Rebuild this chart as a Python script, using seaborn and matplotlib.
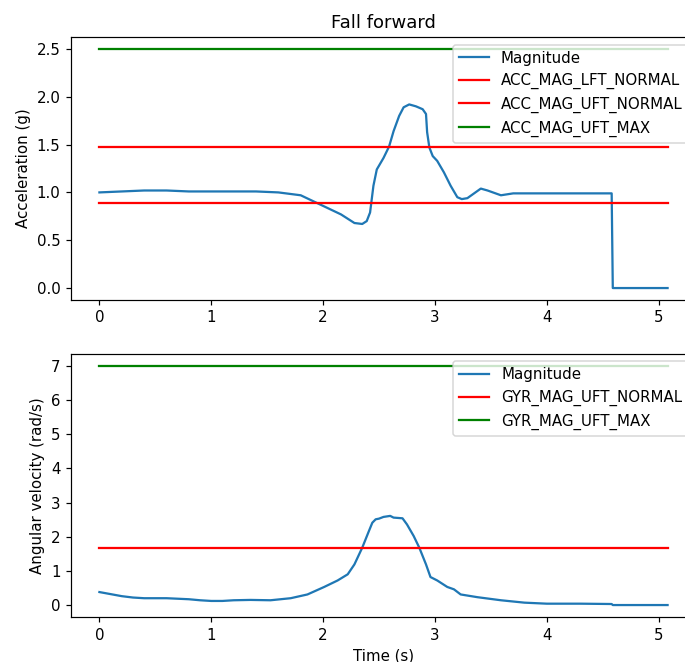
import matplotlib
matplotlib.use("Agg")
import matplotlib.pyplot as plt
import seaborn as sns
import pandas as pd

# Accelerometer magnitude (g)
acc_t = [0.0, 0.2, 0.4, 0.6, 0.8, 1.0, 1.2, 1.4, 1.6, 1.8, 1.98, 2.16, 2.28, 2.35, 2.39,
         2.42, 2.45, 2.48, 2.54, 2.59, 2.63, 2.68, 2.72, 2.77, 2.83, 2.89, 2.92, 2.93,
         2.95, 2.98, 3.02, 3.08, 3.14, 3.20, 3.24, 3.29, 3.41, 3.47, 3.59, 3.7, 3.9,
         4.1, 4.3, 4.5, 4.58, 4.59, 4.8, 5.08]
acc_mag = [1.00, 1.01, 1.02, 1.02, 1.01, 1.01, 1.01, 1.01, 1.00, 0.97, 0.87, 0.77, 0.68,
           0.67, 0.70, 0.79, 1.07, 1.24, 1.36, 1.48, 1.64, 1.80, 1.89, 1.92, 1.90,
           1.87, 1.82, 1.63, 1.47, 1.38, 1.33, 1.21, 1.07, 0.95, 0.93, 0.94, 1.04, 1.02,
           0.97, 0.99, 0.99, 0.99, 0.99, 0.99, 0.99, 0.0, 0.0, 0.0]

# Gyroscope magnitude (rad/s)
gyr_t = [0.0, 0.1, 0.2, 0.3, 0.4, 0.6, 0.8, 0.9, 1.0, 1.1, 1.2, 1.35, 1.53, 1.71, 1.86,
         2.01, 2.13, 2.22, 2.28, 2.35, 2.41, 2.44, 2.47, 2.50, 2.54, 2.60, 2.63, 2.71,
         2.75, 2.81, 2.86, 2.92, 2.96, 3.02, 3.11, 3.17, 3.23, 3.38, 3.59, 3.8, 4.0,
         4.3, 4.58, 4.59, 4.8, 5.08]
gyr_mag = [0.38, 0.32, 0.26, 0.22, 0.20, 0.20, 0.17, 0.14, 0.12, 0.12, 0.14, 0.15, 0.14,
           0.20, 0.31, 0.53, 0.72, 0.90, 1.19, 1.68, 2.17, 2.41, 2.51, 2.53, 2.58, 2.61,
           2.56, 2.54, 2.36, 2.02, 1.68, 1.19, 0.82, 0.72, 0.53, 0.46, 0.31, 0.23, 0.14,
           0.07, 0.04, 0.04, 0.03, 0.0, 0.0, 0.0]

acc_thr_names = ["ACC_MAG_LFT_NORMAL", "ACC_MAG_UFT_NORMAL", "ACC_MAG_UFT_MAX"]
acc_thr_vals = [0.89, 1.48, 2.5]
acc_thr_colors = ["red", "red", "green"]

gyr_thr_names = ["GYR_MAG_UFT_NORMAL", "GYR_MAG_UFT_MAX"]
gyr_thr_vals = [1.68, 7.0]
gyr_thr_colors = ["red", "green"]

t_start, t_end = 0.0, 5.08

DPI = 108
W, H = 685, 662
fig = plt.figure(figsize=(W / DPI, H / DPI), dpi=DPI)
ax1 = fig.add_axes([71 / W, 1 - 300 / H, (696 - 71) / W, (300 - 37) / H])
ax2 = fig.add_axes([71 / W, 1 - 617 / H, (696 - 71) / W, (617 - 354) / H])


def draw(ax, t, mag, names, vals, colors):
    df = pd.DataFrame({"t": t, "v": mag})
    sns.lineplot(data=df, x="t", y="v", ax=ax, color="#1f77b4", label="Magnitude",
                 sort=False, estimator=None, linewidth=1.5)
    for n, v, c in zip(names, vals, colors):
        d = pd.DataFrame({"t": [t_start, t_end], "v": [v, v]})
        sns.lineplot(data=d, x="t", y="v", ax=ax, color=c, label=n,
                     sort=False, estimator=None, linewidth=1.5)
    ax.legend(loc="upper right")


draw(ax1, acc_t, acc_mag, acc_thr_names, acc_thr_vals, acc_thr_colors)
draw(ax2, gyr_t, gyr_mag, gyr_thr_names, gyr_thr_vals, gyr_thr_colors)

ax1.set_title("Fall forward")
ax1.set_xlabel("")
ax1.set_ylabel("Acceleration (g)")
ax2.set_xlabel("Time (s)")
ax2.set_ylabel("Angular velocity (rad/s)")
ax1.set_yticks([0.0, 0.5, 1.0, 1.5, 2.0, 2.5])
ax2.set_yticks([0, 1, 2, 3, 4, 5, 6, 7])

fig.savefig("out.png", dpi=DPI)
